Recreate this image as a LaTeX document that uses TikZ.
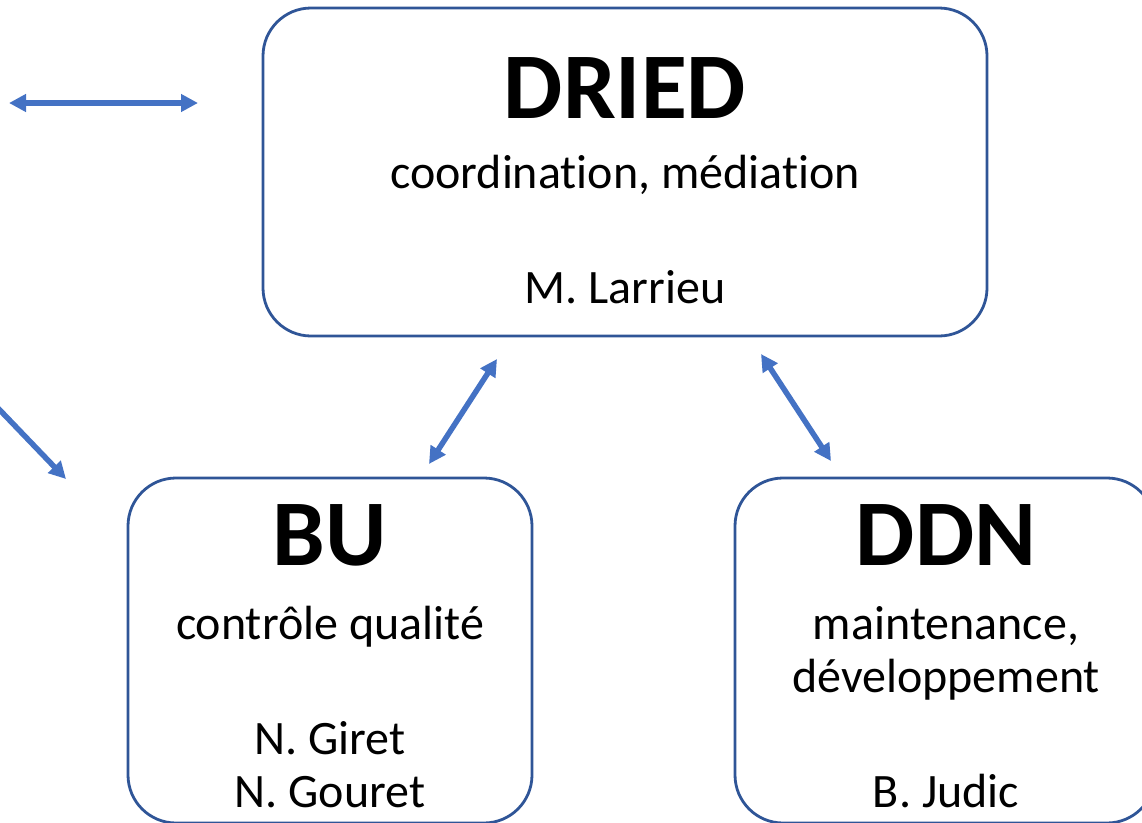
\documentclass[tikz,border=0pt]{standalone}
\usepackage{fontspec}
\setmainfont{Carlito}[RawFeature=-liga]
\usetikzlibrary{arrows.meta}
\definecolor{boxblue}{HTML}{2F5597}
\definecolor{arrblue}{HTML}{4472C4}
\tikzset{
  orgbox/.style={draw=boxblue, line width=2.8pt, rounded corners=48pt, inner sep=0pt},
  title/.style={anchor=base, font=\bfseries\fontsize{94}{100}\selectfont, inner sep=0pt},
  body/.style={anchor=base, font=\fontsize{48}{53}\selectfont, align=center, inner sep=0pt},
  link/.style={draw=arrblue, line width=5.5pt, {Triangle[width=17pt,length=17pt]}-{Triangle[width=17pt,length=17pt]}},
  onelink/.style={draw=arrblue, line width=5.5pt, -{Triangle[width=17pt,length=17pt]}}
}
\begin{document}
\begin{tikzpicture}[x=1pt,y=-1pt]
\useasboundingbox (0,0) rectangle (1142,822);
% boxes
\node[orgbox, minimum width=724pt, minimum height=328pt] (dried) at (625,172) {};
\node[orgbox, minimum width=404pt, minimum height=345pt] (bu) at (330,650.5) {};
\node[orgbox, minimum width=420pt, minimum height=345pt] (ddn) at (945,650.5) {};
% texts
\node[title] (driedt) at (625,118) {DRIED};
\node[body] (driedr) at (625,188) {coordination, médiation};
\node[body] (driedp) at (625,303) {M. Larrieu};
\node[title] (but) at (330,565) {BU};
\node[body] (bur) at (330,639) {contrôle qualité};
\node[body] (bup) at (330,807) {N. Giret\\N. Gouret};
\node[title] (ddnt) at (946,565) {DDN};
\node[body] (ddnr) at (946,692) {maintenance,\\développement};
\node[body] (ddnp) at (946,807) {B. Judic};
% arrows
\coordinate (h1) at (9,103);
\coordinate (h2) at (198,103);
\coordinate (d1) at (-5,405);
\coordinate (d2) at (66,479);
\coordinate (b1) at (429,464);
\coordinate (b2) at (497,359);
\coordinate (c1) at (761,354);
\coordinate (c2) at (831,461);
\draw[link] (h1) -- (h2);
\draw[onelink] (d1) -- (d2);
\draw[link] (b1) -- (b2);
\draw[link] (c1) -- (c2);
\end{tikzpicture}
\end{document}
